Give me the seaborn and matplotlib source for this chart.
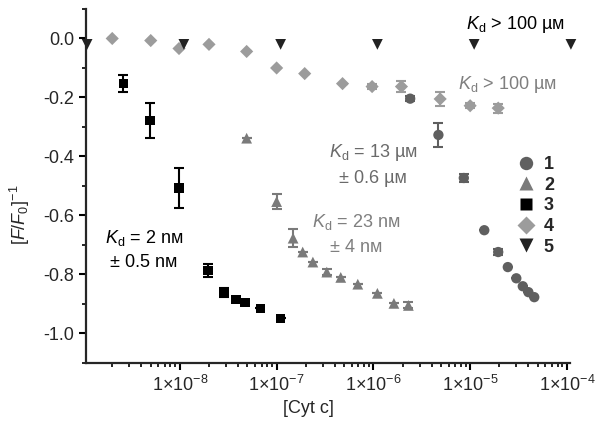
import matplotlib
matplotlib.use('Agg')
import matplotlib.pyplot as plt
import matplotlib.ticker as mticker
from matplotlib.lines import Line2D
import numpy as np
import pandas as pd
import seaborn as sns

# series 1 (circles)
x1 = [2.4e-6, 4.7e-6, 8.6e-6, 1.4e-5, 1.95e-5, 2.45e-5, 3.0e-5, 3.5e-5, 4.0e-5, 4.6e-5]
y1 = [-0.204, -0.327, -0.473, -0.650, -0.724, -0.775, -0.813, -0.840, -0.860, -0.877]
e1 = [0.008, 0.042, 0.012, 0.0, 0.010, 0.0, 0.0, 0.0, 0.0, 0.0]
# series 2 (triangles up)
x2 = [4.9e-8, 1.0e-7, 1.48e-7, 1.86e-7, 2.37e-7, 3.3e-7, 4.6e-7, 6.9e-7, 1.1e-6, 1.63e-6, 2.3e-6]
y2 = [-0.338, -0.553, -0.677, -0.724, -0.758, -0.792, -0.810, -0.833, -0.864, -0.898, -0.905]
e2 = [0.0, 0.025, 0.030, 0.0, 0.0, 0.010, 0.0, 0.0, 0.0, 0.0, 0.010]
# series 3 (squares)
x3 = [2.6e-9, 4.9e-9, 9.8e-9, 1.95e-8, 2.85e-8, 3.8e-8, 4.7e-8, 6.8e-8, 1.1e-7]
y3 = [-0.153, -0.279, -0.507, -0.786, -0.862, -0.884, -0.894, -0.915, -0.949]
e3 = [0.028, 0.060, 0.068, 0.022, 0.015, 0.008, 0.0, 0.0, 0.0]
# series 4 (diamonds)
x4 = [2.0e-9, 5.0e-9, 9.8e-9, 2.0e-8, 4.9e-8, 1.0e-7, 1.95e-7, 4.8e-7, 9.7e-7, 1.95e-6, 4.9e-6, 1.0e-5, 1.95e-5]
y4 = [0.0, -0.007, -0.034, -0.020, -0.044, -0.100, -0.119, -0.153, -0.163, -0.163, -0.205, -0.228, -0.236]
e4 = [0.0, 0.0, 0.0, 0.0, 0.0, 0.0, 0.0, 0.0, 0.008, 0.020, 0.025, 0.008, 0.015]
# series 5 (triangles down)
x5 = [1.1e-9, 1.1e-8, 1.1e-7, 1.1e-6, 1.1e-5, 1.1e-4]
y5 = [-0.02, -0.02, -0.02, -0.02, -0.02, -0.02]

series = [
    ('1', x1, y1, e1, 'o', '#5f5f5f', 55),
    ('2', x2, y2, e2, '^', '#7a7a7a', 60),
    ('3', x3, y3, e3, 's', '#000000', 45),
    ('4', x4, y4, e4, 'D', '#9c9c9c', 45),
    ('5', x5, y5, None, 'v', '#222222', 60),
]

sns.set_style('ticks')
plt.rcParams['font.family'] = ['Liberation Sans', 'DejaVu Sans']
plt.rcParams['mathtext.fontset'] = 'custom'
plt.rcParams['mathtext.rm'] = 'Liberation Sans'
plt.rcParams['mathtext.it'] = 'Liberation Sans:italic'
plt.rcParams['mathtext.bf'] = 'Liberation Sans:bold'
plt.rcParams['font.size'] = 13

fig = plt.figure(figsize=(6.01, 4.28), dpi=100)
ax = fig.add_axes([0.143, 0.152, 0.805, 0.827])

for lab, xs, ys, es, m, c, s in series:
    df = pd.DataFrame({'x': xs, 'y': ys})
    sns.scatterplot(data=df, x='x', y='y', marker=m, color=c, s=s, edgecolor='none',
                    ax=ax, clip_on=False, zorder=3, legend=False)
    if es is not None:
        ax.errorbar(xs, ys, yerr=es, fmt='none', ecolor=c, elinewidth=1.5,
                    capsize=3.5, capthick=1.5, zorder=2)

ax.set_xscale('log')
ax.set_xlim(1.07e-9, 1.07e-4)
ax.set_ylim(-1.1, 0.1)

ax.xaxis.set_minor_locator(mticker.LogLocator(base=10, subs=np.arange(2, 10), numticks=20))
ax.set_xticks([1e-8, 1e-7, 1e-6, 1e-5, 1e-4])
ax.set_xticklabels([r'1$\times$10$^{-%d}$' % k for k in (8, 7, 6, 5, 4)])
ax.xaxis.set_minor_formatter(mticker.NullFormatter())
ax.set_yticks([0.0, -0.2, -0.4, -0.6, -0.8, -1.0])
ax.set_yticklabels(['0.0', '-0.2', '-0.4', '-0.6', '-0.8', '-1.0'])
ax.yaxis.set_minor_locator(mticker.MultipleLocator(0.1))

for sp in ['top', 'right']:
    ax.spines[sp].set_visible(False)
for sp in ['left', 'bottom']:
    ax.spines[sp].set_linewidth(1.6)
ax.tick_params(which='major', length=5, width=1.5, labelsize=13, color='black')
ax.tick_params(which='minor', length=3, width=1.2, color='black')

ax.set_xlabel('[Cyt c]', fontsize=13)
ax.set_ylabel(r'$[F/F_0]^{-1}$', fontsize=13)
ax.xaxis.set_label_coords(0.459, -0.105)
ax.yaxis.set_label_coords(-0.112, 0.42)

gray = '#7f7f7f'
ax.text(2.9e-5, 0.048, r'$K_\mathrm{d}$ > 100 µᴍ', ha='center', va='center', color='black')
ax.text(2.4e-5, -0.156, r'$K_\mathrm{d}$ > 100 µᴍ', ha='center', va='center', color=gray)
ax.text(1.0e-6, -0.388, r'$K_\mathrm{d}$ = 13 µᴍ', ha='center', va='center', color='#6a6a6a')
ax.text(1.0e-6, -0.473, '± 0.6 µᴍ', ha='center', va='center', color='#6a6a6a')
ax.text(6.7e-7, -0.622, r'$K_\mathrm{d}$ = 23 nᴍ', ha='center', va='center', color=gray)
ax.text(6.7e-7, -0.707, '± 4 nᴍ', ha='center', va='center', color=gray)
ax.text(4.25e-9, -0.677, r'$K_\mathrm{d}$ = 2 nᴍ', ha='center', va='center', color='black')
ax.text(4.25e-9, -0.758, '± 0.5 nᴍ', ha='center', va='center', color='black')

handles = [Line2D([], [], marker=m, color=c, linestyle='none', markersize=np.sqrt(s) * 1.3,
                  markeredgecolor='none', label=lab) for lab, xs, ys, es, m, c, s in series]
ax.legend(handles=handles, loc='upper left', bbox_to_anchor=(0.872, 0.61), frameon=False,
          prop={'weight': 'bold', 'size': 13}, handlelength=1.0, handletextpad=0.5,
          labelspacing=0.2, borderpad=0)

fig.savefig('out.png', dpi=100)
